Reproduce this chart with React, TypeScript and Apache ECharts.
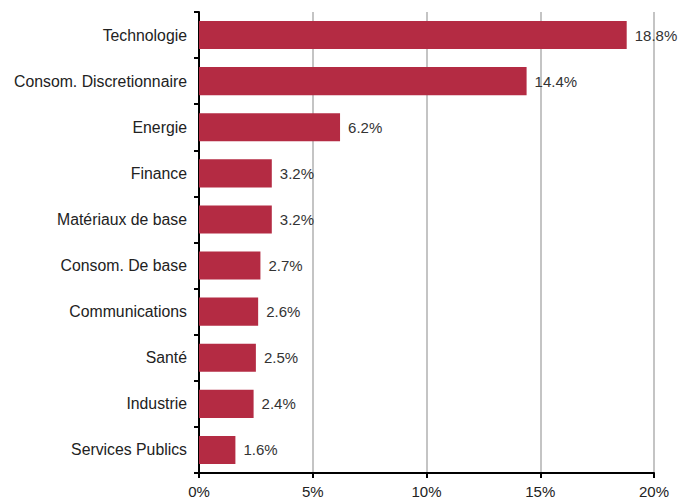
import React, { useEffect, useRef } from "react";
import * as echarts from "echarts";

const categories = [
  "Technologie",
  "Consom. Discretionnaire",
  "Energie",
  "Finance",
  "Matériaux de base",
  "Consom. De base",
  "Communications",
  "Santé",
  "Industrie",
  "Services Publics",
];
const values = [18.8, 14.4, 6.2, 3.2, 3.2, 2.7, 2.6, 2.5, 2.4, 1.6];
const xTicks = [0, 5, 10, 15, 20];

export default function App() {
  const ref = useRef<HTMLDivElement>(null);
  useEffect(() => {
    if (!ref.current) return;
    const chart = echarts.init(ref.current, undefined, { renderer: "svg" });
    const font = "'Liberation Sans', Arial, sans-serif";
    chart.setOption({
      animation: false,
      backgroundColor: "#ffffff",
      grid: { left: 199, top: 12, right: 24, bottom: 29, containLabel: false },
      xAxis: {
        type: "value",
        min: xTicks[0],
        max: xTicks[xTicks.length - 1],
        interval: 5,
        axisLine: { show: true, lineStyle: { color: "#000", width: 2 } },
        axisTick: { show: true, length: 5, lineStyle: { color: "#000", width: 2 } },
        axisLabel: {
          formatter: (v: number) => `${v}%`,
          color: "#222",
          fontSize: 15,
          fontFamily: font,
          margin: 11,
        },
        splitLine: { show: true, lineStyle: { color: "#c4c4c4", width: 2 } },
      },
      yAxis: {
        type: "category",
        data: categories,
        inverse: true,
        axisLine: { show: true, lineStyle: { color: "#000", width: 2 } },
        axisTick: { show: true, length: 5, alignWithLabel: false, lineStyle: { color: "#000", width: 2 } },
        axisLabel: {
          color: "#222",
          fontSize: 15.8,
          fontFamily: font,
          margin: 12,
        },
        splitLine: { show: false },
      },
      series: [
        {
          type: "bar",
          data: values,
          barCategoryGap: "39%",
          itemStyle: { color: "#B42B43" },
          label: {
            show: true,
            position: "right",
            distance: 8,
            formatter: (p: any) => `${p.value.toFixed(1)}%`,
            color: "#333",
            fontSize: 15,
            fontFamily: font,
          },
        },
      ],
    });
    return () => chart.dispose();
  }, []);
  return <div ref={ref} style={{ width: 678, height: 502, position: "absolute", left: 0, top: 0 }} />;
}
